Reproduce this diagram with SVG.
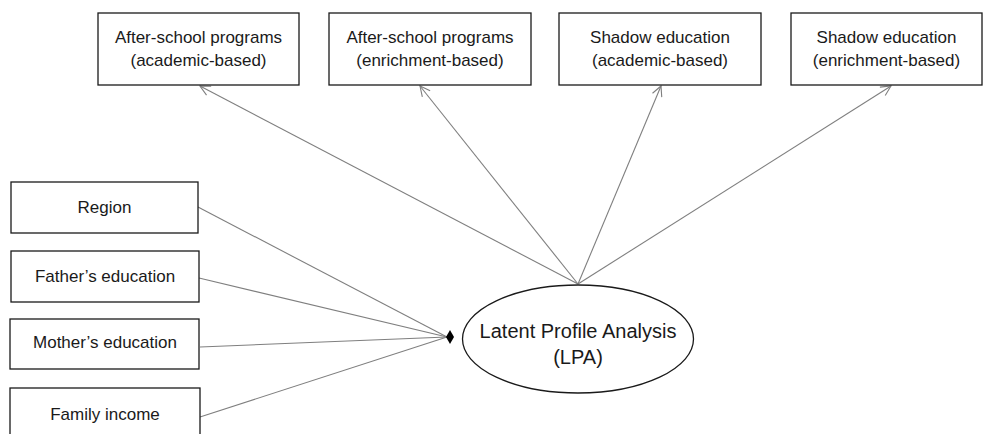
<svg xmlns="http://www.w3.org/2000/svg" width="984" height="434" viewBox="0 0 984 434">
<style>
.box{fill:#fff;stroke:#1a1a1a;stroke-width:1.3}
.t{font-family:"Liberation Sans",Arial,sans-serif;font-size:17px;fill:#1a1a1a;text-anchor:middle}
.big{font-size:20px}
.c{stroke:#7f7f7f;stroke-width:1.1;fill:none}
</style>
<defs>
<marker id="open" viewBox="0 0 12 12" refX="11" refY="6" markerWidth="12" markerHeight="12" markerUnits="userSpaceOnUse" orient="auto">
<path d="M1,1 L11,6 L1,11" fill="none" stroke="#7f7f7f" stroke-width="1.1"/>
</marker>
</defs>
<rect width="984" height="434" fill="#fff"/>
<g id="connectors">
<line class="c" x1="578" y1="284" x2="200" y2="86" marker-end="url(#open)"/>
<line class="c" x1="578" y1="284" x2="420" y2="86" marker-end="url(#open)"/>
<line class="c" x1="578" y1="284" x2="661" y2="86" marker-end="url(#open)"/>
<line class="c" x1="578" y1="284" x2="891" y2="86" marker-end="url(#open)"/>
<line class="c" x1="198" y1="207" x2="447" y2="337"/>
<line class="c" x1="199" y1="278" x2="447" y2="337"/>
<line class="c" x1="200" y1="347" x2="447" y2="337"/>
<line class="c" x1="200" y1="417" x2="447" y2="337"/>
<polygon points="446,337 450,330 454,337 450,344" fill="#000"/>
</g>
<g id="n-asp-acad">
<rect class="box" x="98" y="13" width="201" height="72"/>
<text class="t" x="198.5" y="43">After-school programs</text>
<text class="t" x="198.5" y="66">(academic-based)</text>
</g>
<g id="n-asp-enr">
<rect class="box" x="329" y="13" width="202" height="72"/>
<text class="t" x="430" y="43">After-school programs</text>
<text class="t" x="430" y="66">(enrichment-based)</text>
</g>
<g id="n-se-acad">
<rect class="box" x="559" y="13" width="202" height="72"/>
<text class="t" x="660" y="43">Shadow education</text>
<text class="t" x="660" y="66">(academic-based)</text>
</g>
<g id="n-se-enr">
<rect class="box" x="791" y="13" width="191" height="72"/>
<text class="t" x="886.5" y="43">Shadow education</text>
<text class="t" x="886.5" y="66">(enrichment-based)</text>
</g>
<g id="n-region">
<rect class="box" x="11" y="182" width="187" height="51"/>
<text class="t" x="104.5" y="213">Region</text>
</g>
<g id="n-father">
<rect class="box" x="11" y="251" width="188" height="51"/>
<text class="t" x="105" y="282">Father’s education</text>
</g>
<g id="n-mother">
<rect class="box" x="10" y="319" width="189" height="50"/>
<text class="t" x="105" y="348">Mother’s education</text>
</g>
<g id="n-income">
<rect class="box" x="10" y="388" width="190" height="60"/>
<text class="t" x="105" y="420">Family income</text>
</g>
<g id="n-lpa">
<ellipse class="box" cx="578" cy="339" rx="115.5" ry="54"/>
<text class="t big" x="578" y="338">Latent Profile Analysis</text>
<text class="t big" x="578" y="364">(LPA)</text>
</g>
</svg>
